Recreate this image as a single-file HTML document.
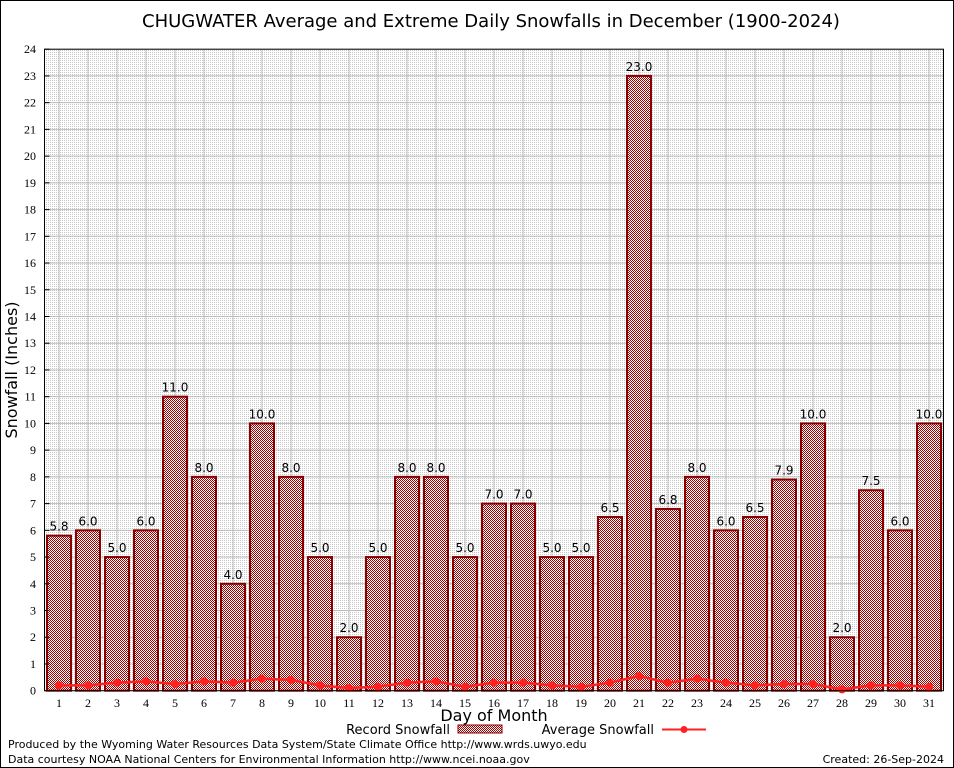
<!DOCTYPE html>
<html><head><meta charset="utf-8"><style>
body{margin:0;background:#fff}
svg{display:block;font-family:"DejaVu Sans","Liberation Sans",sans-serif}
</style></head><body>
<svg id="chart" width="954" height="768" viewBox="0 0 954 768">
<defs>
<pattern id="chk" width="2" height="2" patternUnits="userSpaceOnUse"><rect width="2" height="2" fill="#fff"/><rect width="1" height="1" fill="#a00000"/><rect x="1" y="1" width="1" height="1" fill="#a00000"/></pattern>
<pattern id="dots" width="2" height="2" patternUnits="userSpaceOnUse"><rect width="2" height="2" fill="#fff"/><rect width="1" height="1" fill="#c8c8c8"/></pattern>
</defs>
<rect x="0.5" y="0.5" width="953" height="767" fill="#fff" stroke="#000"/>
<text x="491" y="27" font-size="18" text-anchor="middle">CHUGWATER Average and Extreme Daily Snowfalls in December (1900-2024)</text>
<rect x="44.5" y="49.2" width="899" height="641.5" fill="url(#dots)"/>
<g id="grid"></g><g id="bars"></g><g id="avg"></g><g id="axes"></g>
<text transform="translate(17,370) rotate(-90)" font-size="16" text-anchor="middle">Snowfall (Inches)</text>
<text x="494" y="721" font-size="16" text-anchor="middle">Day of Month</text>
<g>
<text x="450" y="734" font-size="13" text-anchor="end">Record Snowfall</text>
<rect x="458" y="725" width="44" height="8" fill="url(#chk)" stroke="#880000"/>
<text x="654" y="734" font-size="13" text-anchor="end">Average Snowfall</text>
<line x1="662" y1="729.5" x2="706" y2="729.5" stroke="#ff2020" stroke-width="2"/>
<circle cx="684" cy="729.5" r="3.5" fill="#ff2020"/>
</g>
<text x="8" y="748" font-size="11">Produced by the Wyoming Water Resources Data System/State Climate Office http://www.wrds.uwyo.edu</text>
<text x="8" y="763" font-size="11">Data courtesy NOAA National Centers for Environmental Information http://www.ncei.noaa.gov</text>
<text x="944" y="763" font-size="11" text-anchor="end">Created: 26-Sep-2024</text>
</svg>
<script>
const days=[1,2,3,4,5,6,7,8,9,10,11,12,13,14,15,16,17,18,19,20,21,22,23,24,25,26,27,28,29,30,31];
const records=[5.8,6.0,5.0,6.0,11.0,8.0,4.0,10.0,8.0,5.0,2.0,5.0,8.0,8.0,5.0,7.0,7.0,5.0,5.0,6.5,23.0,6.8,8.0,6.0,6.5,7.9,10.0,2.0,7.5,6.0,10.0];
const averages=[0.2,0.2,0.3,0.35,0.25,0.35,0.3,0.45,0.4,0.2,0.1,0.15,0.3,0.35,0.15,0.3,0.3,0.2,0.15,0.3,0.55,0.3,0.45,0.3,0.2,0.25,0.25,0.05,0.2,0.2,0.15];
const yTicks=[0,1,2,3,4,5,6,7,8,9,10,11,12,13,14,15,16,17,18,19,20,21,22,23,24];
const NS='http://www.w3.org/2000/svg';
const X0=44.5,X1=943.5,Y0=690.7,Y1=49.2,YMAX=24;
const xs=d=>X0+(d-0.5)*(X1-X0)/31;
const ys=v=>Y0-v*(Y0-Y1)/YMAX;
function mk(tag,attrs,parent){const e=document.createElementNS(NS,tag);for(const k in attrs)e.setAttribute(k,attrs[k]);document.getElementById(parent).appendChild(e);return e;}
yTicks.forEach(t=>{
 const g=mk('line',{x1:X0,x2:X1,y1:ys(t),y2:ys(t),stroke:'#bbb','stroke-width':1},'grid');
 
 
 const tl=mk('text',{x:36,y:ys(t)+4,'font-size':12,'text-anchor':'end','font-family':'Liberation Serif,serif'},'axes');
 tl.textContent=t;
 
 
 const tk=mk('line',{x1:X0,x2:X0+5,y1:ys(t),y2:ys(t),stroke:'#000'},'axes');
 
 
});
days.forEach((d,i)=>{
 const gl=mk('line',{x1:xs(d),x2:xs(d),y1:Y1,y2:Y0,stroke:'#bbb'},'grid');
 
 
 const w=24,h=Y0-ys(records[i]);
 const b=mk('rect',{x:xs(d)-w/2,y:ys(records[i]),width:w,height:h,fill:'url(#chk)',stroke:'#880000','stroke-width':2},'bars');
 
 
 const lb=mk('text',{x:xs(d),y:ys(records[i])-5,'font-size':12,'text-anchor':'middle'},'bars');
 lb.textContent=records[i].toFixed(1);
 
 
 const xl=mk('text',{x:xs(d),y:707,'font-size':12,'text-anchor':'middle','font-family':'Liberation Serif,serif'},'axes');
 xl.textContent=d;
 
 
});
const pl=mk('polyline',{points:days.map((d,i)=>xs(d)+','+ys(averages[i])).join(' '),fill:'none',stroke:'#ff2020','stroke-width':2.5},'avg');


days.forEach((d,i)=>{
 const c=mk('circle',{cx:xs(d),cy:ys(averages[i]),r:4,fill:'#ff2020'},'avg');
 
 
});
const ax=mk('rect',{x:X0,y:Y1,width:X1-X0,height:Y0-Y1,fill:'none',stroke:'#000','stroke-width':1},'axes');


</script>
</body></html>
